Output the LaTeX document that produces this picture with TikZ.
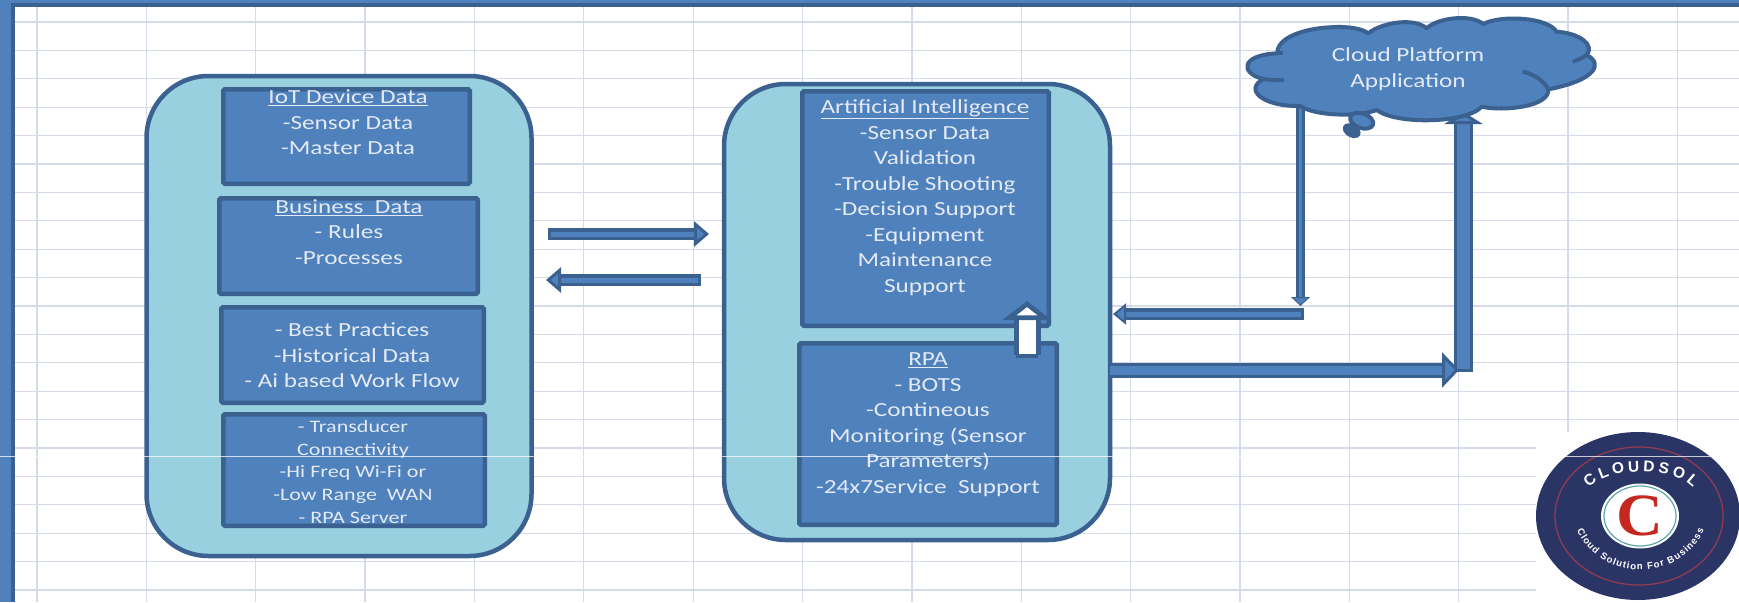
\documentclass[tikz,border=0pt]{standalone}
\usepackage{fontspec}
\setmainfont[FakeStretch=1.26]{Carlito}
\newfontfamily\logoserif[FakeStretch=1.08]{Liberation Serif}
\newfontfamily\logosans{Liberation Sans}
\usetikzlibrary{arrows.meta,decorations.text,shapes.geometric}
\definecolor{barblue}{HTML}{4F81BD}
\definecolor{edgeblue}{HTML}{3A6190}
\definecolor{panelteal}{HTML}{98D0DF}
\definecolor{gridline}{HTML}{D6DBEC}
\definecolor{txtcol}{HTML}{E3EAF4}
\definecolor{navy}{HTML}{2A3566}
\definecolor{logored}{HTML}{C4281F}
\definecolor{ringred}{HTML}{8F3B50}
\definecolor{ringteal}{HTML}{5FA5AE}
\newcommand\lgfontA{\logosans\fontsize{15.5}{16}\selectfont\bfseries}
\newcommand\lgfontB{\logosans\fontsize{9.6}{10}\selectfont\bfseries}
\tikzset{
  panel/.style={draw=edgeblue,fill=panelteal,line width=4.5pt,rectangle,rounded corners=62pt,inner sep=0pt},
  ibox/.style={draw=edgeblue,fill=barblue,line width=4.5pt,rectangle,rounded corners=1.5pt,inner sep=0pt},
  txt/.style={text=txtcol,align=center,anchor=north,inner sep=0pt,font=\fontsize{20}{25.5}\selectfont,execute at begin node=\strut},
  txtsmall/.style={txt,font=\fontsize{17.5}{22.7}\selectfont},
  barrow/.style={draw=edgeblue,line width=#1,double=barblue},
  barrow/.default=3pt
}
\begin{document}
\begin{tikzpicture}[x=1pt,y=-1pt]
\useasboundingbox (0,0) rectangle (1739,602);
\fill[white] (0,0) rectangle (1739,602);
% sheet grid
\foreach \k in {0,...,15}{\draw[gridline,line width=1.3pt] ({37+109.36*\k},7) -- ({37+109.36*\k},602);}
\foreach \k in {0,...,20}{\draw[gridline,line width=1.3pt] (12,{22+28.4*\k}) -- (1739,{22+28.4*\k});}
% window frame
\fill[barblue] (0,0) rectangle (11,602);
\fill[barblue] (0,0) rectangle (1739,4);
\fill[edgeblue] (11,3) rectangle (15,602);
\fill[edgeblue] (11,3) rectangle (1739,7);
% panels
\node[panel,minimum width=385pt,minimum height=480pt] (leftpanel) at (339,316) {};
\node[panel,minimum width=386pt,minimum height=456pt] (rightpanel) at (917,312) {};
% inner boxes
\node[ibox,minimum width=246.5pt,minimum height=94.5pt] (iot) at (346.5,136.5) {};
\node[ibox,minimum width=258.5pt,minimum height=95.5pt] (biz) at (348.5,246) {};
\node[ibox,minimum width=262.5pt,minimum height=95.5pt] (best) at (352.5,355) {};
\node[ibox,minimum width=261.5pt,minimum height=111.5pt] (conn) at (354,470) {};
\node[ibox,minimum width=246.5pt,minimum height=234.5pt] (ai) at (925.5,208.5) {};
\node[ibox,minimum width=257.5pt,minimum height=181.5pt] (rpa) at (928,434) {};
% box texts
\node[txt] (iottxt) at (348,90) {\underline{IoT Device Data}\\-Sensor Data\\-Master Data};
\node[txt] (biztxt) at (349,199.5) {\underline{Business\ \ Data}\\- Rules\\-Processes};
\node[txt] (besttxt) at (352,322.5) {- Best Practices\\-Historical Data\\- Ai based Work Flow};
\node[txtsmall] (conntxt) at (353,420) {- Transducer\\Connectivity\\-Hi Freq Wi-Fi or\\-Low Range\ \ WAN\\- RPA Server};
\node[txt] (aitxt) at (925,99.5) {\underline{Artificial Intelligence}\\-Sensor Data\\Validation\\-Trouble Shooting\\-Decision Support\\-Equipment\\Maintenance\\Support};
\node[txt] (rpatxt) at (928,352.5) {\underline{RPA}\\- BOTS\\-Contineous\\Monitoring (Sensor\\Parameters)\\-24x7Service\ \ Support};
% arrow ends
\coordinate (fwdS) at (548,234); \coordinate (fwdE) at (709,234);
\coordinate (backS) at (701,280); \coordinate (backE) at (546,280);
\coordinate (upS) at (1027,358); \coordinate (upE) at (1027,301);
\coordinate (retS) at (1304,314); \coordinate (retE) at (1113,314);
\coordinate (outS) at (1110,370); \coordinate (outE) at (1459,370);
\coordinate (riseS) at (1463.5,372); \coordinate (riseE) at (1463.5,112);
\coordinate (dropS) at (1300.5,100); \coordinate (dropE) at (1300.5,306);
\draw[barrow=3.5pt,double distance=5pt,{Bar[width=12pt,line width=3pt,sep=0pt]}-{Triangle[length=15pt,width=25pt,line width=3pt,fill=barblue]}] (fwdS) -- (fwdE);
\draw[barrow=3.5pt,double distance=5pt,{Bar[width=12pt,line width=3pt,sep=0pt]}-{Triangle[length=15pt,width=25pt,line width=3pt,fill=barblue]}] (backS) -- (backE);
\draw[barrow=3.5pt,double distance=5pt,{Bar[width=12pt,line width=3pt,sep=0pt]}-{Triangle[length=13pt,width=21pt,line width=2pt,fill=barblue]}] (retS) -- (retE);
\draw[barrow=3pt,double distance=9pt,-{Triangle[length=17pt,width=35pt,line width=3pt,fill=barblue]}] (outS) -- (outE);
\draw[barrow=3pt,double distance=13pt,{Bar[width=19pt,line width=3pt,sep=0pt]}-{Triangle[length=12pt,width=38pt,line width=3pt,fill=barblue]}] (riseS) -- (riseE);
\draw[barrow=3pt,double distance=3pt,-{Triangle[length=9pt,width=19pt,line width=1pt,fill=barblue]}] (dropS) -- (dropE);
\draw[draw=edgeblue,line width=5pt,double=white,double distance=17pt,{Bar[width=22pt,line width=4pt,sep=0pt]}-{Triangle[length=19pt,width=48pt,line width=5pt,fill=white]}] (upS) -- (upE);
% cloud
\begin{scope}[shift={(1220,0)},x=0.33333pt,y=-0.33333pt]
\draw[draw=edgeblue,fill=barblue,line width=4pt,line join=round]
 (172,160) .. controls (170,110) and (260,85) .. (330,82)
 .. controls (380,78) and (425,85) .. (445,100)
 .. controls (480,70) and (580,50) .. (620,85)
 .. controls (650,55) and (750,40) .. (790,72)
 .. controls (840,45) and (980,50) .. (1010,95)
 .. controls (1080,100) and (1125,135) .. (1100,165)
 .. controls (1150,190) and (1130,240) .. (985,268)
 .. controls (990,320) and (850,335) .. (785,320)
 .. controls (740,370) and (530,375) .. (470,330)
 .. controls (420,350) and (290,350) .. (240,318)
 .. controls (130,320) and (70,270) .. (130,237)
 .. controls (60,220) and (60,165) .. (172,160) -- cycle;
\draw[edgeblue,line width=4pt] (130,237) .. controls (150,240) and (170,241) .. (192,240);
\draw[edgeblue,line width=4pt] (985,268) .. controls (970,240) and (940,222) .. (908,215);
\draw[edgeblue,line width=4pt] (1100,165) .. controls (1090,172) and (1075,180) .. (1058,185);
\draw[edgeblue,line width=4pt] (172,160) -- (190,160);
\draw[draw=edgeblue,fill=barblue,line width=4pt,rotate around={-20:(425,362)}] (425,362) ellipse [x radius=36,y radius=22];
\draw[draw=edgeblue,fill=edgeblue,line width=3pt,rotate around={-30:(395,392)}] (395,392) ellipse [x radius=24,y radius=15];
\end{scope}
\node[txt] (cloud) at (1408,47.5) {Cloud Platform\\Application};
% logo
\fill[white] (1536,432) rectangle (1739,602);
\fill[navy] (1638,516) ellipse [x radius=102,y radius=84];
\draw[ringred,line width=1.3pt] (1639,516) ellipse [x radius=84,y radius=69];
\fill[white] (1640,516) ellipse [x radius=39,y radius=32.5];
\draw[ringteal,line width=1.2pt] (1640,516) ellipse [x radius=36,y radius=30];
\node[inner sep=0pt,text=logored,font=\logoserif\fontsize{60}{60}\selectfont\bfseries] (logoC) at (1640,516) {C};
\path[decorate,decoration={text along path,text align={fit to path},text color=white,text={|\lgfontA|CLOUDSOL}}] (1589,488) .. controls (1608,466) and (1674,466) .. (1693,488);
\path[decorate,decoration={text along path,text align={fit to path},text color=white,text={|\lgfontB|Cloud Solution For Business}}] (1577,530) .. controls (1600,583) and (1680,583) .. (1704,530);
% stray scan line
\draw[white,opacity=.75,line width=.9pt] (0,456) -- (1712,456);
\end{tikzpicture}
\end{document}
